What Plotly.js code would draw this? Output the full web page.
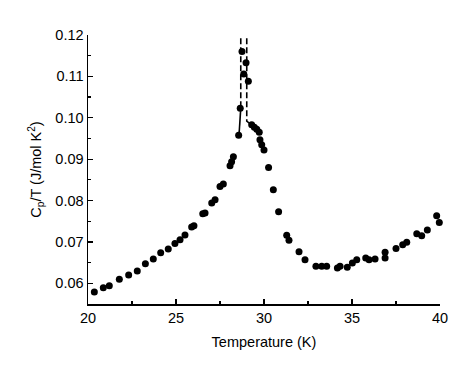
<!DOCTYPE html>
<html>
<head>
<meta charset="utf-8">
<script src="https://cdn.plot.ly/plotly-3.0.1.min.js"></script>
<style>html,body{margin:0;padding:0;background:#fff;}#chart{width:474px;height:376px;}</style>
</head>
<body>
<div id="chart"></div>
<script>
// Measured data: temperature (K) and Cp/T (J/mol K^2)
var temperature = [20.36, 20.87, 21.21, 21.78, 22.31, 22.80, 23.26, 23.71, 24.13, 24.56, 24.94, 25.23, 25.51, 25.89, 26.02, 26.52, 26.65, 27.03, 27.22, 27.50, 27.69, 28.07, 28.16, 28.26, 28.56, 28.65, 28.75, 28.85, 28.98, 29.11, 29.30, 29.45, 29.59, 29.73, 29.77, 29.87, 30.00, 30.26, 30.53, 30.83, 31.29, 31.42, 31.99, 32.33, 32.95, 33.28, 33.56, 34.17, 34.32, 34.73, 35.02, 35.27, 35.78, 35.97, 36.31, 36.88, 36.88, 37.50, 37.88, 38.11, 38.68, 38.96, 39.28, 39.81, 39.96];
var cpOverT = [0.0579, 0.0589, 0.0594, 0.0610, 0.0620, 0.0630, 0.0647, 0.0659, 0.0674, 0.0683, 0.0696, 0.0705, 0.0717, 0.0736, 0.0739, 0.0768, 0.0770, 0.0794, 0.0802, 0.0834, 0.0840, 0.0884, 0.0894, 0.0906, 0.0958, 0.1023, 0.1160, 0.1106, 0.1133, 0.1088, 0.0983, 0.0977, 0.0972, 0.0965, 0.0947, 0.0935, 0.0922, 0.0880, 0.0826, 0.0773, 0.0716, 0.0704, 0.0676, 0.0657, 0.0641, 0.0641, 0.0641, 0.0637, 0.0641, 0.0639, 0.0649, 0.0657, 0.0661, 0.0657, 0.0659, 0.0675, 0.0661, 0.0684, 0.0693, 0.0699, 0.0720, 0.0715, 0.0729, 0.0763, 0.0747];
// Guide lines around the transition (dashed branches)
var leftGuideT = [28.68, 28.68];
var leftGuideC = [0.1192, 0.1023];
var leftTailT = [28.68, 28.58];
var leftTailC = [0.1023, 0.0958];
var rightGuideT = [29.02, 29.02, 29.28];
var rightGuideC = [0.1192, 0.0992, 0.0983];
var xTickVals = [20, 25, 30, 35, 40];
var yTickVals = [0.06, 0.07, 0.08, 0.09, 0.10, 0.11, 0.12];
var yTickText = ['0.06', '0.07', '0.08', '0.09', '0.10', '0.11', '0.12'];

var traces = [
  {x: leftGuideT, y: leftGuideC, mode: 'lines', line: {color: '#000', width: 1.6, dash: '6px,3px'}, hoverinfo: 'skip'},
  {x: leftTailT, y: leftTailC, mode: 'lines', line: {color: '#000', width: 1.6}, hoverinfo: 'skip'},
  {x: rightGuideT, y: rightGuideC, mode: 'lines', line: {color: '#000', width: 1.6, dash: '6px,3px'}, hoverinfo: 'skip'},
  {x: temperature, y: cpOverT, mode: 'markers', marker: {color: '#000', size: 7}, cliponaxis: false}
];

var fontFam = 'Liberation Sans, Arial, sans-serif';
var layout = {
  width: 474, height: 376,
  margin: {l: 88, r: 34, t: 35, b: 71.5},
  paper_bgcolor: '#fff', plot_bgcolor: '#fff',
  showlegend: false,
  font: {family: fontFam, color: '#000', size: 13},
  xaxis: {
    range: [20, 40], tickvals: xTickVals, ticks: 'inside', ticklen: 5, tickwidth: 1.2, tickcolor: '#000',
    showline: true, linecolor: '#000', linewidth: 1.5, showgrid: false, zeroline: false,
    minor: {dtick: 2.5, tick0: 20, ticks: 'inside', ticklen: 3, tickwidth: 1.2, tickcolor: '#000', showgrid: false},
    tickfont: {size: 14.5, family: fontFam},
    title: {text: 'Temperature (K)', font: {size: 14.5, family: fontFam}, standoff: 12}
  },
  yaxis: {
    range: [0.055, 0.12], tickvals: yTickVals, ticktext: yTickText, ticks: 'inside', ticklen: 5, tickwidth: 1.2, tickcolor: '#000',
    showline: true, linecolor: '#000', linewidth: 1.5, showgrid: false, zeroline: false,
    minor: {dtick: 0.005, tick0: 0.055, ticks: 'inside', ticklen: 3, tickwidth: 1.2, tickcolor: '#000', showgrid: false},
    tickfont: {size: 14.5, family: fontFam},
    title: {text: 'C<sub>p</sub>/T (J/mol K<sup>2</sup>)', font: {size: 14.5, family: fontFam}, standoff: 10}
  }
};
Plotly.newPlot('chart', traces, layout, {displayModeBar: false, staticPlot: true});
</script>
</body>
</html>
